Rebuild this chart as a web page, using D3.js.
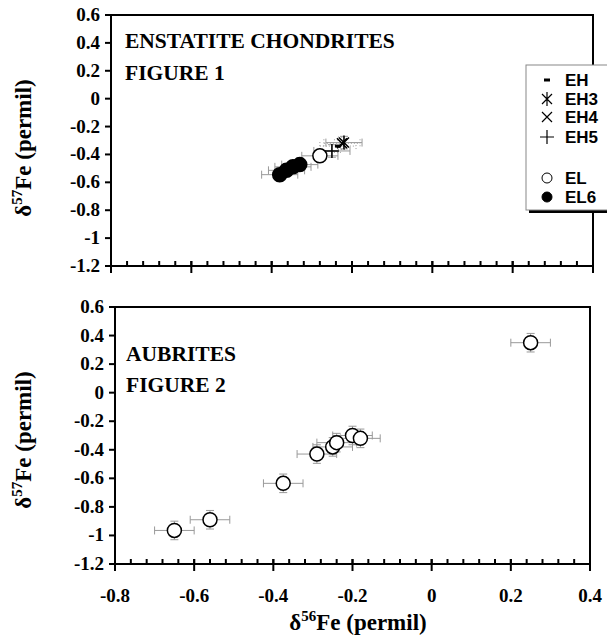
<!DOCTYPE html>
<html>
<head>
<meta charset="utf-8">
<script src="https://cdn.jsdelivr.net/npm/d3@7"></script>
<style>
  body { margin: 0; background: #fff; }
  svg { display: block; }
  .tick-label { font-family: "Liberation Serif", "Times New Roman", serif; font-weight: bold; font-size: 19px; }
  .title { font-family: "Liberation Serif", "Times New Roman", serif; font-weight: bold; }
  .legend { font-family: "Liberation Sans", Arial, sans-serif; font-weight: bold; font-size: 17px; }
</style>
</head>
<body>
<div id="chart"></div>
<script>
// Axis ticks
var xTicks = [-0.8, -0.6, -0.4, -0.2, 0, 0.2, 0.4];
var yTicks = [0.6, 0.4, 0.2, 0, -0.2, -0.4, -0.6, -0.8, -1, -1.2];

// Figure 1 - enstatite chondrites
var ehX = [-0.235], ehY = [-0.34];
var eh3X = [-0.22], eh3Y = [-0.315];
var eh4X = [-0.225], eh4Y = [-0.32];
var eh5X = [-0.25], eh5Y = [-0.375];
var elX = [-0.28], elY = [-0.41];
var el6X = [-0.38, -0.363, -0.347, -0.33];
var el6Y = [-0.545, -0.514, -0.489, -0.473];
var enstErrX = 0.045, enstErrY = 0.045;

// Figure 2 - aubrites
var aubX = [-0.65, -0.56, -0.375, -0.29, -0.25, -0.24, -0.2, -0.18, 0.25];
var aubY = [-0.965, -0.89, -0.635, -0.43, -0.38, -0.35, -0.3, -0.32, 0.35];
var aubErrX = [0.05, 0.05, 0.05, 0.05, 0.05, 0.05, 0.05, 0.05, 0.05];
var aubErrY = [0.065, 0.065, 0.065, 0.065, 0.065, 0.065, 0.065, 0.065, 0.065];

var legendNames = ['EH', 'EH3', 'EH4', 'EH5', 'EL', 'EL6'];

var width = 607, height = 638;
var svg = d3.select('#chart').append('svg')
    .attr('width', width)
    .attr('height', height);

function zip(xs, ys) { return xs.map(function (v, i) { return {x: v, y: ys[i], i: i}; }); }

function panel(box) {
    var x = d3.scaleLinear().domain([-0.8, 0.4]).range([box.left, box.right]);
    var y = d3.scaleLinear().domain([-1.2, 0.6]).range([box.bottom, box.top]);
    var g = svg.append('g');

    // frame
    g.append('rect')
        .attr('x', box.left).attr('y', box.top)
        .attr('width', box.right - box.left).attr('height', box.bottom - box.top)
        .attr('fill', 'none').attr('stroke', '#000').attr('stroke-width', 2);

    // y ticks
    g.selectAll('.ytick').data(yTicks).enter().append('line')
        .attr('x1', box.left - 6).attr('x2', box.left)
        .attr('y1', function (d) { return y(d); }).attr('y2', function (d) { return y(d); })
        .attr('stroke', '#000').attr('stroke-width', 2);
    g.selectAll('.ylab').data(yTicks).enter().append('text')
        .attr('class', 'tick-label')
        .attr('x', box.left - 11).attr('y', function (d) { return y(d) + 6; })
        .attr('text-anchor', 'end')
        .text(function (d) { return String(+d.toFixed(1)); });

    // x ticks: minor inside, major crossing
    var minor = d3.range(0, 31).map(function (i) { return -0.8 + i * 0.04; });
    g.selectAll('.xminor').data(minor).enter().append('line')
        .attr('x1', function (d) { return x(d); }).attr('x2', function (d) { return x(d); })
        .attr('y1', box.bottom - 5).attr('y2', box.bottom)
        .attr('stroke', '#000').attr('stroke-width', 2);
    g.selectAll('.xmajor').data(xTicks).enter().append('line')
        .attr('x1', function (d) { return x(d); }).attr('x2', function (d) { return x(d); })
        .attr('y1', box.bottom - 5).attr('y2', box.bottom + 7)
        .attr('stroke', '#000').attr('stroke-width', 2);

    return {g: g, x: x, y: y};
}

function errorBars(p, pts, ex, ey, dash) {
    var g = p.g.append('g').attr('stroke', '#999').attr('stroke-width', 1)
        .attr('stroke-dasharray', dash || null);
    pts.forEach(function (d) {
        var exv = Array.isArray(ex) ? ex[d.i] : ex;
        var eyv = Array.isArray(ey) ? ey[d.i] : ey;
        var cx = p.x(d.x), cy = p.y(d.y);
        var x0 = p.x(d.x - exv), x1 = p.x(d.x + exv);
        var y0 = p.y(d.y - eyv), y1 = p.y(d.y + eyv);
        g.append('line').attr('x1', x0).attr('x2', x1).attr('y1', cy).attr('y2', cy);
        g.append('line').attr('x1', x0).attr('x2', x0).attr('y1', cy - 4).attr('y2', cy + 4);
        g.append('line').attr('x1', x1).attr('x2', x1).attr('y1', cy - 4).attr('y2', cy + 4);
        g.append('line').attr('x1', cx).attr('x2', cx).attr('y1', y0).attr('y2', y1);
        g.append('line').attr('x1', cx - 4).attr('x2', cx + 4).attr('y1', y0).attr('y2', y0);
        g.append('line').attr('x1', cx - 4).attr('x2', cx + 4).attr('y1', y1).attr('y2', y1);
    });
}

// marker paths centred on 0,0
var markerPaths = {
    dash: 'M-3,0H3',
    star: 'M-5,-5L5,5M-5,5L5,-5M0,-7V7',
    cross: 'M-5,-5L5,5M-5,5L5,-5',
    plus: 'M-7,0H7M0,-7V7'
};

function drawMarkers(g, pts, type, px, py) {
    pts.forEach(function (d) {
        var cx = px(d.x), cy = py(d.y);
        if (type === 'open' || type === 'filled') {
            g.append('circle').attr('cx', cx).attr('cy', cy).attr('r', 7)
                .attr('fill', type === 'open' ? '#fff' : '#000')
                .attr('stroke', '#000').attr('stroke-width', 1.5);
        } else {
            g.append('path').attr('d', markerPaths[type])
                .attr('transform', 'translate(' + cx + ',' + cy + ')')
                .attr('fill', 'none').attr('stroke', '#000')
                .attr('stroke-width', type === 'dash' ? 3 : 1.5);
        }
    });
}

// ---- Figure 1 ----
var p1 = panel({left: 111, right: 593, top: 15, bottom: 266});
var enstGroups = [
    {pts: zip(ehX, ehY), type: 'dash', dash: '1,2'},
    {pts: zip(eh3X, eh3Y), type: 'star', dash: null},
    {pts: zip(eh4X, eh4Y), type: 'cross', dash: '1,2'},
    {pts: zip(eh5X, eh5Y), type: 'plus', dash: null},
    {pts: zip(elX, elY), type: 'open', dash: null},
    {pts: zip(el6X, el6Y), type: 'filled', dash: null}
];
enstGroups.forEach(function (grp) { errorBars(p1, grp.pts, enstErrX, enstErrY, grp.dash); });
enstGroups.forEach(function (grp) { drawMarkers(p1.g, grp.pts, grp.type, p1.x, p1.y); });

p1.g.append('text').attr('class', 'title').attr('x', 125).attr('y', 48)
    .style('font-size', '21.5px').text('ENSTATITE CHONDRITES');
p1.g.append('text').attr('class', 'title').attr('x', 125).attr('y', 80)
    .style('font-size', '21.5px').text('FIGURE 1');

// legend
var leg = svg.append('g');
leg.append('rect').attr('x', 529).attr('y', 68).attr('width', 90).attr('height', 145).attr('fill', '#000');
leg.append('rect').attr('x', 526).attr('y', 65).attr('width', 90).attr('height', 145)
    .attr('fill', '#fff').attr('stroke', '#888').attr('stroke-width', 1);
var legY = [80, 99, 117, 137, 178, 197];
var legTypes = ['dash', 'star', 'cross', 'plus', 'open', 'filled'];
legendNames.forEach(function (name, i) {
    var cy = legY[i];
    if (legTypes[i] === 'open' || legTypes[i] === 'filled') {
        leg.append('circle').attr('cx', 547).attr('cy', cy).attr('r', 5)
            .attr('fill', legTypes[i] === 'open' ? '#fff' : '#000')
            .attr('stroke', '#000').attr('stroke-width', 1);
    } else {
        leg.append('path').attr('d', markerPaths[legTypes[i]])
            .attr('transform', 'translate(547,' + cy + ')')
            .attr('fill', 'none').attr('stroke', '#000')
            .attr('stroke-width', legTypes[i] === 'dash' ? 3 : 1.2);
    }
    leg.append('text').attr('class', 'legend').attr('x', 565).attr('y', cy + 6).text(name);
});

// ---- Figure 2 ----
var p2 = panel({left: 115, right: 590, top: 307, bottom: 564});
var aubPts = zip(aubX, aubY);
errorBars(p2, aubPts, aubErrX, aubErrY, null);
drawMarkers(p2.g, aubPts, 'open', p2.x, p2.y);

p2.g.append('text').attr('class', 'title').attr('x', 126).attr('y', 361)
    .style('font-size', '21.5px').text('AUBRITES');
p2.g.append('text').attr('class', 'title').attr('x', 126).attr('y', 392)
    .style('font-size', '21.5px').text('FIGURE 2');

// x-axis labels (shared, under bottom panel)
svg.selectAll('.xlab').data(xTicks).enter().append('text')
    .attr('class', 'tick-label')
    .attr('x', function (d) { return p2.x(d); }).attr('y', 602)
    .attr('text-anchor', 'middle')
    .text(function (d) { return String(+d.toFixed(1)); });

// axis titles
function axisTitle(sel, num) {
    sel.append('tspan').text('\u03b4');
    sel.append('tspan').attr('dy', -9).style('font-size', '15px').text(num);
    sel.append('tspan').attr('dy', 9).text('Fe (permil)');
}
axisTitle(svg.append('text').attr('class', 'title').style('font-size', '23px')
    .attr('x', 358).attr('y', 630).attr('text-anchor', 'middle'), '56');
axisTitle(svg.append('text').attr('class', 'title').style('font-size', '23px')
    .attr('transform', 'translate(31,148)rotate(-90)').attr('text-anchor', 'middle'), '57');
axisTitle(svg.append('text').attr('class', 'title').style('font-size', '23px')
    .attr('transform', 'translate(31,440)rotate(-90)').attr('text-anchor', 'middle'), '57');
</script>
</body>
</html>
